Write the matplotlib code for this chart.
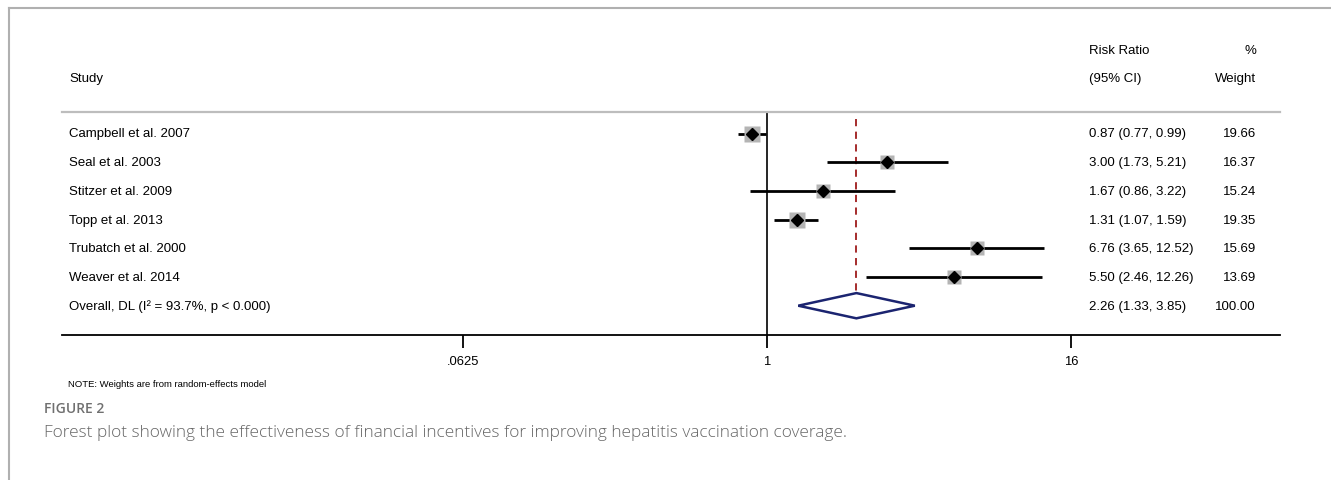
import matplotlib
matplotlib.use("Agg")
import matplotlib.pyplot as plt
import matplotlib.transforms as mtransforms
from matplotlib.lines import Line2D
from matplotlib.ticker import NullLocator

# Study-level data (risk ratios, 95% CI, random-effects weights)
studies = ["Campbell et al. 2007", "Seal et al. 2003", "Stitzer et al. 2009",
           "Topp et al. 2013", "Trubatch et al. 2000", "Weaver et al. 2014"]
rr = [0.87, 3.00, 1.67, 1.31, 6.76, 5.50]
ci_lo = [0.77, 1.73, 0.86, 1.07, 3.65, 2.46]
ci_hi = [0.99, 5.21, 3.22, 1.59, 12.52, 12.26]
weights = [19.66, 16.37, 15.24, 19.35, 15.69, 13.69]

overall_label = "Overall, DL (I\u00b2 = 93.7%, p < 0.000)"
overall_rr, overall_lo, overall_hi = 2.26, 1.33, 3.85
overall_weight = 100.00

xticks = [0.0625, 1, 16]
xticklabels = [".0625", "1", "16"]

W, H = 1331, 481
FONT = ["Liberation Sans", "DejaVu Sans"]
plt.rcParams["font.family"] = FONT

fig = plt.figure(figsize=(W / 100, H / 100), dpi=100)

def fx(px):
    return px / W

def fy(py):
    return 1 - py / H

# plot area in pixels: x 62..1280, y 113..336 ; 1 at x=767, 76 px per doubling
left_px, right_px, top_px, bot_px = 62, 1280, 113, 336
ax = fig.add_axes([fx(left_px), fy(bot_px), fx(right_px) - fx(left_px),
                   fy(top_px) - fy(bot_px)])
ax.set_xscale("log", base=2)
ax.set_xlim(2 ** ((left_px - 767) / 76), 2 ** ((right_px - 767) / 76))
row0, step = 134.5, 28.7
ax.set_ylim((bot_px - row0) / step, -(row0 - top_px) / step)

for s in ["left", "right"]:
    ax.spines[s].set_visible(False)
ax.spines["top"].set_color("#bdbdbd")
ax.spines["top"].set_linewidth(1.6)
ax.spines["bottom"].set_color("black")
ax.spines["bottom"].set_linewidth(1.3)

ax.set_xticks(xticks)
ax.set_xticklabels(xticklabels)
ax.xaxis.set_minor_locator(NullLocator())
ax.set_yticks([])
ax.tick_params(axis="x", direction="out", length=9.5, width=1.3, pad=5,
               labelsize=9.4, colors="black")

# null line and overall line
ax.axvline(1, color="black", lw=1.2, zorder=1)
n = len(studies)
ax.plot([overall_rr, overall_rr], [-0.5, n + 0.45], color="#9e1b1b",
        lw=1.3, ls=(0, (4, 3)), zorder=1)

# study estimates
for i in range(n):
    ax.plot([ci_lo[i], ci_hi[i]], [i, i], color="black", lw=2.0,
            solid_capstyle="butt", zorder=2)
    ax.plot(rr[i], i, marker="s", ms=2.65 * weights[i] ** 0.5,
            color="#b4b4b4", mec="none", zorder=3)
    ax.plot(rr[i], i, marker="D", ms=6.3, color="black", zorder=4)

# overall diamond
dy = 0.44
ax.fill([overall_lo, overall_rr, overall_hi, overall_rr],
        [n, n - dy, n, n + dy], facecolor="white", edgecolor="#1b2470",
        lw=1.8, zorder=3)

# text columns
tr = mtransforms.blended_transform_factory(fig.transFigure, ax.transData)
fs = 9.5
labels = studies + [overall_label]
ci_text = [f"{r:.2f} ({l:.2f}, {h:.2f})" for r, l, h in zip(rr, ci_lo, ci_hi)]
ci_text.append(f"{overall_rr:.2f} ({overall_lo:.2f}, {overall_hi:.2f})")
wt_text = [f"{w:.2f}" for w in weights] + [f"{overall_weight:.2f}"]
for i, (lab, ct, wt) in enumerate(zip(labels, ci_text, wt_text)):
    fig.text(fx(69), i, lab, transform=tr, va="center", ha="left", fontsize=fs)
    fig.text(fx(1089), i, ct, transform=tr, va="center", ha="left", fontsize=fs)
    fig.text(fx(1256), i, wt, transform=tr, va="center", ha="right", fontsize=fs)

fig.text(fx(69), fy(79), "Study", va="center", ha="left", fontsize=fs)
fig.text(fx(1089), fy(51), "Risk Ratio", va="center", ha="left", fontsize=fs)
fig.text(fx(1089), fy(79), "(95% CI)", va="center", ha="left", fontsize=fs)
fig.text(fx(1256), fy(51), "%", va="center", ha="right", fontsize=fs)
fig.text(fx(1256), fy(79), "Weight", va="center", ha="right", fontsize=fs)

fig.text(fx(68), fy(385), "NOTE: Weights are from random-effects model",
         va="center", ha="left", fontsize=6.8)

# journal caption
fig.text(fx(44), fy(409), "FIGURE 2", va="center", ha="left", fontsize=10,
         color="#707070", family=["Open Sans", "DejaVu Sans"], weight="semibold")
fig.text(fx(44), fy(433),
         "Forest plot showing the effectiveness of financial incentives for "
         "improving hepatitis vaccination coverage.",
         va="center", ha="left", fontsize=12.4, color="#666666",
         family=["Open Sans", "DejaVu Sans"], weight="light")

# outer frame of the figure panel
fig.add_artist(Line2D([fx(9), 1], [fy(9), fy(9)], color="#b0b0b0", lw=1.5))
fig.add_artist(Line2D([fx(9), fx(9)], [fy(9), 0], color="#b0b0b0", lw=1.5))

fig.savefig("out.png", dpi=100)
